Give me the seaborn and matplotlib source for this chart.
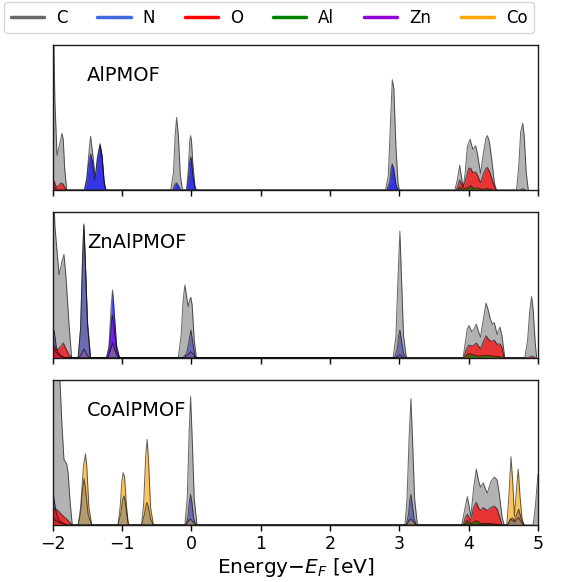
import matplotlib
matplotlib.use("Agg")
import matplotlib.pyplot as plt
from matplotlib.lines import Line2D
import seaborn as sns

# projected DOS, (E - E_F [eV], DOS in axis fractions)
# ---- AlPMOF ----
alpmof_C = [(-2.00, 1.40), (-1.97, 0.60), (-1.94, 0.24), (-1.90, 0.32), (-1.87, 0.39), (-1.85, 0.35),
            (-1.83, 0.15), (-1.80, 0.0),
            (-1.55, 0.0), (-1.51, 0.08), (-1.48, 0.26), (-1.456, 0.37), (-1.43, 0.27), (-1.39, 0.09),
            (-1.36, 0.20), (-1.32, 0.31), (-1.29, 0.22), (-1.26, 0.05), (-1.23, 0.0),
            (-0.30, 0.0), (-0.26, 0.12), (-0.235, 0.38), (-0.215, 0.50), (-0.19, 0.38), (-0.16, 0.10),
            (-0.13, 0.0), (-0.07, 0.0), (-0.045, 0.15), (-0.025, 0.34), (-0.013, 0.375), (0.0, 0.34),
            (0.02, 0.18), (0.05, 0.03), (0.07, 0.0),
            (2.80, 0.0), (2.84, 0.10), (2.87, 0.45), (2.897, 0.76), (2.92, 0.70), (2.95, 0.30),
            (2.98, 0.05), (3.00, 0.0),
            (3.80, 0.0), (3.84, 0.08), (3.87, 0.17), (3.90, 0.08), (3.92, 0.02), (3.95, 0.12),
            (3.98, 0.30), (4.02, 0.35), (4.06, 0.28), (4.10, 0.305), (4.13, 0.24), (4.17, 0.115),
            (4.21, 0.25), (4.25, 0.36), (4.27, 0.375), (4.30, 0.33), (4.34, 0.18), (4.37, 0.05),
            (4.40, 0.0),
            (4.69, 0.0), (4.72, 0.15), (4.75, 0.40), (4.78, 0.46), (4.80, 0.38), (4.83, 0.12), (4.86, 0.0)]
alpmof_N = [(-2.00, 0.03), (-1.96, 0.01), (-1.92, 0.0),
            (-1.54, 0.0), (-1.51, 0.08), (-1.48, 0.20), (-1.456, 0.25), (-1.43, 0.20), (-1.40, 0.08),
            (-1.39, 0.07), (-1.36, 0.22), (-1.32, 0.32), (-1.29, 0.24), (-1.26, 0.06), (-1.24, 0.0),
            (-0.27, 0.0), (-0.24, 0.04), (-0.215, 0.05), (-0.19, 0.03), (-0.16, 0.0),
            (-0.07, 0.0), (-0.045, 0.08), (-0.025, 0.20), (-0.013, 0.23), (0.0, 0.21), (0.02, 0.10),
            (0.05, 0.01), (0.07, 0.0),
            (2.82, 0.0), (2.86, 0.06), (2.88, 0.15), (2.897, 0.18), (2.92, 0.14), (2.95, 0.04), (2.98, 0.0)]
alpmof_O = [(-2.00, 0.07), (-1.98, 0.06), (-1.95, 0.02), (-1.92, 0.03), (-1.88, 0.05), (-1.85, 0.04),
            (-1.82, 0.01), (-1.80, 0.0),
            (3.82, 0.0), (3.85, 0.04), (3.87, 0.07), (3.90, 0.04), (3.92, 0.02), (3.96, 0.08),
            (4.00, 0.15), (4.03, 0.15), (4.06, 0.12), (4.10, 0.125), (4.13, 0.10), (4.17, 0.05),
            (4.21, 0.11), (4.25, 0.15), (4.27, 0.155), (4.30, 0.13), (4.34, 0.07), (4.38, 0.01),
            (4.40, 0.0),
            (4.74, 0.0), (4.78, 0.01), (4.82, 0.0)]
alpmof_Al = [(3.84, 0.0), (3.87, 0.02), (3.92, 0.005), (4.00, 0.02), (4.03, 0.03), (4.07, 0.01),
             (4.12, 0.015), (4.20, 0.005), (4.27, 0.01), (4.35, 0.0)]

# ---- ZnAlPMOF ----
znalpmof_C = [(-2.00, 1.30), (-1.97, 0.90), (-1.91, 0.57), (-1.87, 0.66), (-1.84, 0.71), (-1.81, 0.55),
              (-1.77, 0.25), (-1.73, 0.0),
              (-1.635, 0.0), (-1.60, 0.20), (-1.57, 0.70), (-1.553, 0.91), (-1.535, 0.70), (-1.50, 0.25),
              (-1.456, 0.0),
              (-1.21, 0.0), (-1.17, 0.05), (-1.139, 0.10), (-1.11, 0.05), (-1.06, 0.0),
              (-0.19, 0.0), (-0.15, 0.15), (-0.12, 0.40), (-0.095, 0.50), (-0.07, 0.42), (-0.047, 0.35),
              (-0.025, 0.40), (-0.009, 0.415), (0.01, 0.36), (0.04, 0.12), (0.07, 0.0),
              (2.91, 0.0), (2.95, 0.15), (2.98, 0.55), (3.007, 0.87), (3.03, 0.55), (3.06, 0.15),
              (3.10, 0.0),
              (3.92, 0.0), (3.95, 0.10), (3.98, 0.20), (4.006, 0.22), (4.04, 0.18), (4.07, 0.19),
              (4.11, 0.23), (4.14, 0.18), (4.17, 0.14), (4.21, 0.26), (4.25, 0.375), (4.28, 0.33),
              (4.31, 0.27), (4.34, 0.23), (4.37, 0.24), (4.41, 0.16), (4.45, 0.21), (4.48, 0.15),
              (4.52, 0.0),
              (4.81, 0.0), (4.85, 0.12), (4.88, 0.32), (4.907, 0.42), (4.93, 0.33), (4.96, 0.10),
              (4.98, 0.0)]
znalpmof_N = [(-2.00, 0.21), (-1.98, 0.18), (-1.95, 0.07), (-1.92, 0.03), (-1.88, 0.01), (-1.84, 0.0),
              (-1.635, 0.0), (-1.60, 0.20), (-1.57, 0.72), (-1.553, 0.92), (-1.535, 0.70), (-1.50, 0.22),
              (-1.46, 0.0),
              (-1.225, 0.0), (-1.19, 0.08), (-1.16, 0.35), (-1.139, 0.465), (-1.12, 0.35), (-1.08, 0.08),
              (-1.04, 0.0),
              (-0.12, 0.0), (-0.07, 0.03), (-0.04, 0.10), (-0.009, 0.19), (0.02, 0.10), (0.05, 0.01),
              (0.07, 0.0),
              (2.93, 0.0), (2.97, 0.06), (2.99, 0.15), (3.007, 0.19), (3.03, 0.12), (3.06, 0.03),
              (3.09, 0.0)]
znalpmof_O = [(-2.00, 0.09), (-1.98, 0.08), (-1.95, 0.05), (-1.92, 0.06), (-1.88, 0.08), (-1.85, 0.10),
              (-1.82, 0.07), (-1.77, 0.02), (-1.73, 0.0),
              (3.93, 0.0), (3.96, 0.05), (4.00, 0.085), (4.06, 0.08), (4.11, 0.10), (4.14, 0.08),
              (4.17, 0.06), (4.21, 0.11), (4.25, 0.15), (4.28, 0.13), (4.32, 0.11), (4.37, 0.12),
              (4.41, 0.09), (4.45, 0.095), (4.48, 0.07), (4.51, 0.0),
              (4.86, 0.0), (4.91, 0.01), (4.96, 0.0)]
znalpmof_Al = [(3.94, 0.0), (3.98, 0.02), (4.03, 0.025), (4.08, 0.015), (4.15, 0.01), (4.25, 0.015),
               (4.35, 0.01), (4.45, 0.005), (4.50, 0.0)]
znalpmof_Zn = [(-2.00, 0.06), (-1.96, 0.04), (-1.92, 0.02), (-1.88, 0.01), (-1.84, 0.0),
               (-1.62, 0.0), (-1.58, 0.03), (-1.553, 0.06), (-1.52, 0.03), (-1.48, 0.0),
               (-1.225, 0.0), (-1.19, 0.06), (-1.16, 0.22), (-1.139, 0.29), (-1.12, 0.22), (-1.08, 0.05),
               (-1.04, 0.0),
               (-0.10, 0.0), (-0.05, 0.02), (-0.01, 0.04), (0.03, 0.02), (0.06, 0.0),
               (2.95, 0.0), (3.007, 0.02), (3.06, 0.0)]

# ---- CoAlPMOF ----
coalpmof_C = [(-2.00, 1.50), (-1.90, 1.02), (-1.87, 0.70), (-1.84, 0.45), (-1.80, 0.42), (-1.78, 0.36),
              (-1.75, 0.15), (-1.72, 0.0),
              (-1.635, 0.0), (-1.60, 0.08), (-1.57, 0.25), (-1.55, 0.32), (-1.53, 0.25), (-1.49, 0.07),
              (-1.44, 0.0),
              (-1.06, 0.0), (-1.02, 0.08), (-0.995, 0.17), (-0.975, 0.20), (-0.955, 0.16), (-0.93, 0.06),
              (-0.91, 0.0),
              (-0.72, 0.0), (-0.68, 0.07), (-0.655, 0.14), (-0.64, 0.155), (-0.62, 0.12), (-0.59, 0.04),
              (-0.55, 0.0),
              (-0.095, 0.0), (-0.06, 0.20), (-0.035, 0.62), (-0.013, 0.885), (0.01, 0.60), (0.04, 0.18),
              (0.08, 0.0),
              (3.08, 0.0), (3.11, 0.18), (3.14, 0.60), (3.166, 0.87), (3.19, 0.58), (3.22, 0.18),
              (3.26, 0.0),
              (3.90, 0.0), (3.94, 0.10), (3.98, 0.195), (4.01, 0.12), (4.03, 0.06), (4.07, 0.25),
              (4.11, 0.385), (4.14, 0.31), (4.17, 0.26), (4.21, 0.29), (4.24, 0.25), (4.27, 0.22),
              (4.32, 0.30), (4.37, 0.33), (4.41, 0.31), (4.44, 0.22), (4.48, 0.06), (4.51, 0.0),
              (4.56, 0.0), (4.61, 0.04), (4.66, 0.02), (4.72, 0.05), (4.77, 0.01), (4.80, 0.0),
              (4.93, 0.0), (4.96, 0.12), (5.00, 0.35)]
coalpmof_N = [(-2.00, 0.23), (-1.98, 0.17), (-1.95, 0.08), (-1.92, 0.04), (-1.88, 0.02), (-1.84, 0.01),
              (-1.80, 0.0),
              (-0.08, 0.0), (-0.05, 0.06), (-0.03, 0.16), (-0.013, 0.21), (0.005, 0.16), (0.03, 0.05),
              (0.06, 0.0),
              (3.10, 0.0), (3.13, 0.07), (3.15, 0.17), (3.166, 0.21), (3.18, 0.16), (3.21, 0.05),
              (3.24, 0.0),
              (4.56, 0.0), (4.60, 0.04), (4.63, 0.05), (4.66, 0.03), (4.69, 0.07), (4.72, 0.11),
              (4.75, 0.06), (4.78, 0.01), (4.80, 0.0)]
coalpmof_O = [(-2.00, 0.09), (-1.97, 0.115), (-1.93, 0.10), (-1.89, 0.08), (-1.85, 0.06), (-1.80, 0.04),
              (-1.76, 0.02), (-1.72, 0.0),
              (3.92, 0.0), (3.95, 0.05), (3.98, 0.075), (4.01, 0.05), (4.03, 0.03), (4.07, 0.12),
              (4.11, 0.155), (4.14, 0.12), (4.17, 0.10), (4.21, 0.12), (4.27, 0.10), (4.32, 0.12),
              (4.37, 0.13), (4.41, 0.11), (4.45, 0.05), (4.48, 0.0)]
coalpmof_Al = [(3.93, 0.0), (3.98, 0.03), (4.03, 0.01), (4.11, 0.03), (4.18, 0.01), (4.30, 0.01),
               (4.40, 0.005), (4.45, 0.0)]
coalpmof_Co = [(-2.00, 0.05), (-1.96, 0.03), (-1.92, 0.02), (-1.86, 0.01), (-1.80, 0.0),
               (-1.635, 0.0), (-1.60, 0.12), (-1.56, 0.40), (-1.53, 0.49), (-1.51, 0.40), (-1.48, 0.12),
               (-1.44, 0.0),
               (-1.06, 0.0), (-1.03, 0.12), (-1.005, 0.30), (-0.985, 0.36), (-0.965, 0.33), (-0.94, 0.14),
               (-0.91, 0.0),
               (-0.72, 0.0), (-0.69, 0.15), (-0.66, 0.48), (-0.64, 0.59), (-0.62, 0.45), (-0.59, 0.12),
               (-0.55, 0.0),
               (-0.09, 0.0), (-0.04, 0.03), (-0.013, 0.04), (0.02, 0.02), (0.06, 0.0),
               (3.10, 0.0), (3.14, 0.03), (3.166, 0.04), (3.19, 0.03), (3.23, 0.0),
               (4.55, 0.0), (4.58, 0.20), (4.61, 0.47), (4.635, 0.30), (4.66, 0.06), (4.69, 0.25),
               (4.715, 0.385), (4.74, 0.20), (4.77, 0.04), (4.80, 0.0)]

elements = ["C", "N", "O", "Al", "Zn", "Co"]
legend_colors = ["dimgray", "royalblue", "red", "green", "darkviolet", "orange"]
fill_colors = {"C": "gray", "N": "blue", "O": "red", "Al": "green", "Zn": "darkviolet", "Co": "orange"}
fill_alpha = {"C": 0.6, "N": 0.7, "O": 0.7, "Al": 0.7, "Zn": 0.6, "Co": 0.65}

# panels, with the drawing order of the species (last one on top)
panels = [
    ("AlPMOF", [("C", alpmof_C), ("N", alpmof_N), ("O", alpmof_O), ("Al", alpmof_Al)]),
    ("ZnAlPMOF", [("N", znalpmof_N), ("Zn", znalpmof_Zn), ("C", znalpmof_C),
                  ("O", znalpmof_O), ("Al", znalpmof_Al)]),
    ("CoAlPMOF", [("N", coalpmof_N), ("Co", coalpmof_Co), ("C", coalpmof_C),
                  ("O", coalpmof_O), ("Al", coalpmof_Al)]),
]

sns.set_style("ticks")
plt.rcParams["font.family"] = ["DejaVu Sans"]
plt.rcParams["text.color"] = "black"
plt.rcParams["axes.labelcolor"] = "black"
plt.rcParams["xtick.color"] = "black"

fig, axes = plt.subplots(3, 1, figsize=(5.81, 5.82), dpi=100, sharex=True)
fig.subplots_adjust(left=0.091, right=0.926, top=0.923, bottom=0.098, hspace=0.153)

for ax, (name, series) in zip(axes, panels):
    for el, pts in series:
        xs = [p[0] for p in pts]
        ys = [p[1] for p in pts]
        ax.fill_between(xs, ys, 0, color=fill_colors[el], alpha=fill_alpha[el], linewidth=0)
        sns.lineplot(x=xs, y=ys, ax=ax, color="k", lw=0.7, alpha=0.6, sort=False)
    ax.text(0.07, 0.79, name, transform=ax.transAxes, fontsize=14, va="center", ha="left")
    ax.set_xlim(-2, 5)
    ax.set_ylim(0, 1)
    ax.set_yticks([])
    ax.set_ylabel("")
    ax.tick_params(axis="x", length=4, width=1, labelsize=12.5)
    for sp in ax.spines.values():
        sp.set_visible(True)
        sp.set_linewidth(1.0)
        sp.set_color("0.1")

axes[-1].set_xticks(range(-2, 6))
axes[-1].set_xlabel(r"Energy$-E_F$ [eV]", fontsize=14.5, labelpad=2)

handles = [Line2D([0], [0], color=c, lw=2.5) for c in legend_colors]
fig.legend(handles, elements, loc="upper left", bbox_to_anchor=(-0.007, 1.011), ncol=6,
           fontsize=12, frameon=True, columnspacing=1.8, handletextpad=0.7, handlelength=2.0)

fig.savefig("out.png", dpi=100)
